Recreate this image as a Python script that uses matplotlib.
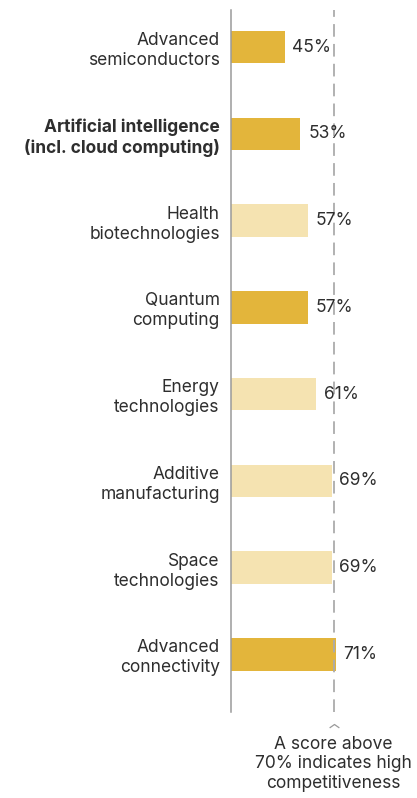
import matplotlib.pyplot as plt
from matplotlib.path import Path

# Competitiveness scores by technology area
categories = [
    'Advanced\nsemiconductors',
    'Artificial intelligence\n(incl. cloud computing)',
    'Health\nbiotechnologies',
    'Quantum\ncomputing',
    'Energy\ntechnologies',
    'Additive\nmanufacturing',
    'Space\ntechnologies',
    'Advanced\nconnectivity',
]
scores = [45, 53, 57, 57, 61, 69, 69, 71]
highlighted = [True, True, False, True, False, False, False, True]
threshold = 70
threshold_note = 'A score above\n70% indicates high\ncompetitiveness'

DARK = '#E3B53B'
LIGHT = '#F5E3B1'
TEXT = '#2e2e2e'

plt.rcParams['font.family'] = ['Inter', 'DejaVu Sans']

fig = plt.figure(figsize=(4.17, 7.98), dpi=100)
ax = fig.add_axes([0.555, 0.1078, 0.445, 0.8797])

pos = list(range(len(categories)))
colors = [DARK if h else LIGHT for h in highlighted]
bars = ax.barh(pos, scores, height=0.375, color=colors, zorder=2)

# reference line for the competitiveness threshold
ax.axvline(threshold, color='#ababab', lw=1.3, dashes=(7, 4), zorder=3)

for b, v in zip(bars, scores):
    ax.annotate(f'{v}%', xy=(v, b.get_y() + b.get_height() / 2),
                xytext=(5.5, 0), textcoords='offset points',
                va='center', ha='left', fontsize=12.5, color=TEXT, zorder=4)

ax.set_xlim(17.6, 112.8)
ax.set_ylim(7.663, -0.429)

ax.set_yticks(pos)
ax.set_yticklabels(categories, fontsize=12.5, color=TEXT, linespacing=1.22)
ax.get_yticklabels()[1].set_fontweight('bold')
ax.tick_params(axis='y', length=0, pad=8.5)
ax.set_xticks([])

for s in ['top', 'right', 'bottom']:
    ax.spines[s].set_visible(False)
ax.spines['left'].set_color('#9a9a9a')
ax.spines['left'].set_linewidth(1.1)

# small caret pointing up at the threshold line, then the note
caret = Path([(-1, -0.7), (0, 0), (1, -0.7)],
             [Path.MOVETO, Path.LINETO, Path.LINETO])
ax.plot([threshold], [7.80], marker=caret, markersize=7, mfc='none',
        mec='#9a9a9a', mew=0.9, clip_on=False, ls='none')
ax.annotate(threshold_note, xy=(threshold, 0), xycoords=('data', 'axes fraction'),
            xytext=(0, -17), textcoords='offset points',
            ha='center', va='top', multialignment='center',
            fontsize=12.5, color=TEXT, linespacing=1.22)

fig.savefig('out.png', dpi=100)
